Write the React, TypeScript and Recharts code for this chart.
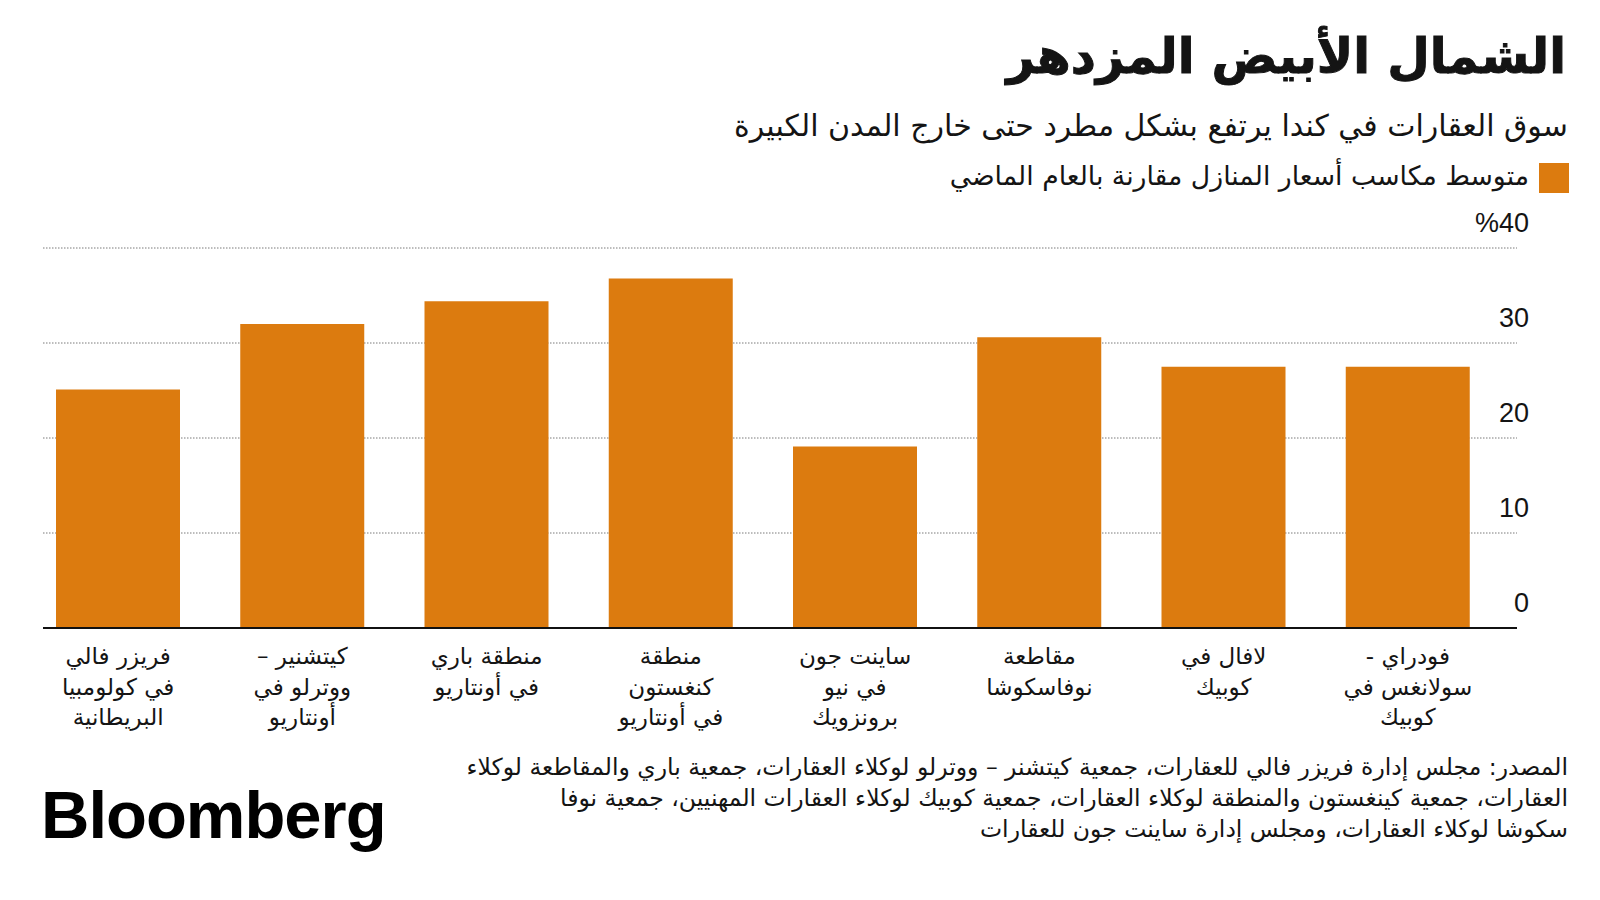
import React from "react";
import { BarChart, Bar, XAxis, YAxis, CartesianGrid, ReferenceLine } from "recharts";

// categories, right to left as they appear in the chart
const regions = [
  "فودراي -\nسولانغس في\nكوبيك",
  "لافال في\nكوبيك",
  "مقاطعة\nنوفاسكوشا",
  "ساينت جون\nفي نيو\nبرونزويك",
  "منطقة\nكنغستون\nفي أونتاريو",
  "منطقة باري\nفي أونتاريو",
  "كيتشنير –\nووترلو في\nأونتاريو",
  "فريزر فالي\nفي كولومبيا\nالبريطانية",
];
const priceGains = [27.5, 27.5, 30.6, 19.1, 36.8, 34.4, 32.0, 25.1];
const yTicks = [0, 10, 20, 30, 40];

const title = "الشمال الأبيض المزدهر";
const subtitle = "سوق العقارات في كندا يرتفع بشكل مطرد حتى خارج المدن الكبيرة";
const legendLabel = "متوسط مكاسب أسعار المنازل مقارنة بالعام الماضي";
const sourceLines = [
  "المصدر: مجلس إدارة فريزر فالي للعقارات، جمعية كيتشنر – ووترلو لوكلاء العقارات، جمعية باري والمقاطعة لوكلاء",
  "العقارات، جمعية كينغستون والمنطقة لوكلاء العقارات، جمعية كوبيك لوكلاء العقارات المهنيين، جمعية نوفا",
  "سكوشا لوكلاء العقارات، ومجلس إدارة ساينت جون للعقارات",
];

const ORANGE = "#dc7b0f";
const INK = "#141414";
const arabicFont = "'DejaVu Sans', sans-serif";
const latinFont = "'Liberation Sans', Arial, sans-serif";

const data = regions.map((name, i) => ({ name, gain: priceGains[i] }));

const CategoryTick = ({ x, y, payload }: any) => {
  const lines = String(payload.value).split("\n");
  return (
    <g transform={`translate(${x},${y})`}>
      {lines.map((line, i) => (
        <text
          key={i}
          x={0}
          y={36 + i * 30.5}
          textAnchor="middle"
          direction="rtl"
          fill={INK}
          fontSize={23}
          fontFamily={arabicFont}
        >
          {line}
        </text>
      ))}
    </g>
  );
};

const ValueTick = ({ x, y, payload }: any) => (
  <text
    x={x + 12}
    y={y - 16}
    textAnchor="end"
    fill={INK}
    fontSize={27}
    fontFamily={latinFont}
  >
    {payload.value === 40 ? "%40" : payload.value}
  </text>
);

export default function App() {
  return (
    <div
      style={{
        position: "absolute",
        left: 0,
        top: 0,
        width: 1600,
        height: 900,
        background: "#fff",
        overflow: "hidden",
      }}
    >
      <div
        dir="rtl"
        style={{
          position: "absolute",
          right: 34,
          top: 22,
          fontFamily: arabicFont,
          fontWeight: 700,
          fontSize: 49,
          lineHeight: "70px",
          color: INK,
          whiteSpace: "nowrap",
          WebkitTextStroke: "1px " + INK,
        }}
      >
        {title}
      </div>
      <div
        dir="rtl"
        style={{
          position: "absolute",
          right: 32,
          top: 106,
          fontFamily: arabicFont,
          fontSize: 30,
          lineHeight: "40px",
          color: INK,
          whiteSpace: "nowrap",
        }}
      >
        {subtitle}
      </div>
      <div
        style={{
          position: "absolute",
          left: 1539,
          top: 163,
          width: 30,
          height: 30,
          background: ORANGE,
        }}
      />
      <div
        dir="rtl"
        style={{
          position: "absolute",
          right: 71,
          top: 158,
          fontFamily: arabicFont,
          fontSize: 26.7,
          lineHeight: "36px",
          color: INK,
          whiteSpace: "nowrap",
        }}
      >
        {legendLabel}
      </div>

      <div style={{ position: "absolute", left: 0, top: 0 }}>
        <BarChart
          width={1600}
          height={760}
          data={data}
          margin={{ top: 248, right: 23, left: 43, bottom: 12 }}
        >
          <CartesianGrid
            vertical={false}
            stroke="#7a7a7a"
            strokeDasharray="1.5 1.5"
          />
          <XAxis
            dataKey="name"
            reversed
            interval={0}
            axisLine={false}
            tickLine={false}
            tickSize={0}
            tickMargin={0}
            height={120}
            padding={{ left: -17, right: 17 }}
            tick={<CategoryTick />}
          />
          <YAxis
            orientation="right"
            domain={[0, 40]}
            ticks={yTicks}
            axisLine={false}
            tickLine={false}
            tickSize={0}
            tickMargin={0}
            width={60}
            tick={<ValueTick />}
          />
          <Bar dataKey="gain" fill={ORANGE} barSize={124} isAnimationActive={false} />
          <ReferenceLine y={0} stroke="#111" strokeWidth={2} />
        </BarChart>
      </div>

      <div
        style={{
          position: "absolute",
          left: 41,
          top: 783,
          fontFamily: latinFont,
          fontWeight: 700,
          fontSize: 67,
          lineHeight: "64px",
          letterSpacing: -1,
          color: "#000",
        }}
      >
        Bloomberg
      </div>
      <div
        dir="rtl"
        style={{
          position: "absolute",
          right: 32,
          top: 752,
          fontFamily: arabicFont,
          fontSize: 23.5,
          lineHeight: "31px",
          color: INK,
          whiteSpace: "nowrap",
        }}
      >
        {sourceLines.map((line, i) => (
          <div key={i}>{line}</div>
        ))}
      </div>
    </div>
  );
}
